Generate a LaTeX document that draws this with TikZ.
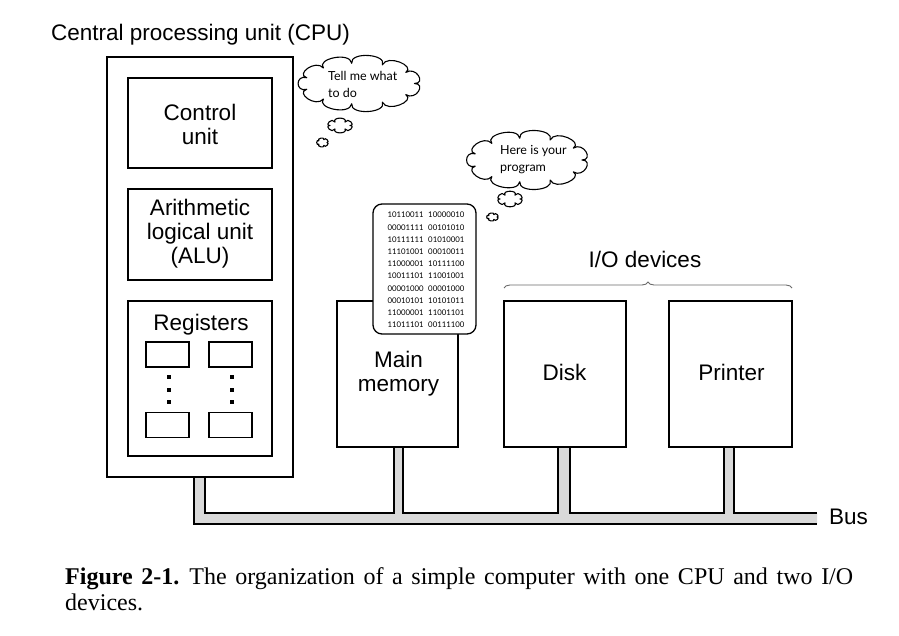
\documentclass[tikz,border=0pt]{standalone}
\usepackage{fontspec}
\setmainfont{Liberation Sans}
\newfontfamily\capfont{Liberation Serif}
\newfontfamily\thinkfont{Lato}
\usetikzlibrary{decorations.pathreplacing}
\definecolor{busgray}{HTML}{D9D9D9}
\definecolor{bracegray}{HTML}{6A6A6A}
% #1,#2 centre, #3,#4 inner radii, #5 puff bulge, #6 number of puffs
\newcommand\mycloud[6]{%
  \draw[thoughtline,shift={(#1,#2)}] (0:#3 and #4)
    \foreach \k in {1,...,#6}{ .. controls ({(\k-1)*360/#6}:{#3+#5} and {#4+#5}) and ({\k*360/#6}:{#3+#5} and {#4+#5}) .. ({\k*360/#6}:#3 and #4)} -- cycle;}
\begin{document}
\begin{tikzpicture}[x=1pt,y=-1pt,
  box/.style={draw,line width=2pt,fill=white,rectangle,inner sep=0pt},
  regbox/.style={draw,line width=1.8pt,fill=white,rectangle,inner sep=0pt,minimum width=43pt,minimum height=25pt},
  lbl/.style={font=\fontsize{22.5}{24}\selectfont,align=center,inner sep=0pt},
  dotsq/.style={fill=black,minimum size=4pt,inner sep=0pt,rectangle},
  thoughtline/.style={line width=1.1pt,fill=white,line join=round},
  think/.style={font=\thinkfont\fontsize{12.5}{17}\selectfont,align=left,inner sep=0pt},
  busline/.style={line width=1.8pt,line join=miter}
]
\useasboundingbox[fill=white] (0,0) rectangle (899,635);

% title
\node[lbl,anchor=base] (title) at (200.5,40) {Central processing unit (CPU)};

% bus fill
\coordinate (busB) at (817,524);
\coordinate (busT) at (817,513);
\fill[busgray] (194,470) -- (194,524) -- (busB) -- (busT) -- (734,513) -- (734,440) -- (724,440)
  -- (724,513) -- (570,513) -- (570,440) -- (558,440) -- (558,513) -- (403,513) -- (403,440)
  -- (394,440) -- (394,513) -- (205,513) -- (205,470) -- cycle;

% CPU
\node[box,minimum width=186pt,minimum height=420pt] (cpu) at (200,267) {};
\node[box,minimum width=144pt,minimum height=90pt] (cu) at (200,123) {};
\node[lbl] (cutxt) at (200,124.5) {Control\\unit};
\node[box,minimum width=144pt,minimum height=91pt] (alu) at (200,234.5) {};
\node[lbl] (alutxt) at (200,233.5) {Arithmetic\\logical unit\\(ALU)};
\node[box,minimum width=144pt,minimum height=155pt] (reg) at (200,378.5) {};
\node[lbl,anchor=base] (regtxt) at (201,330) {Registers};
\node[regbox] (r1) at (167.5,354.5) {};
\node[regbox] (r2) at (230.5,354.5) {};
\node[regbox] (r3) at (167.5,425) {};
\node[regbox] (r4) at (230.5,425) {};
\node[dotsq] (d1) at (169,377) {};
\node[dotsq] (d2) at (169,389.5) {};
\node[dotsq] (d3) at (169,402) {};
\node[dotsq] (d4) at (232,377) {};
\node[dotsq] (d5) at (232,389.5) {};
\node[dotsq] (d6) at (232,402) {};

% memory and devices
\node[box,minimum width=121pt,minimum height=146pt] (mem) at (397.5,374) {};
\node[lbl] (memtxt) at (398.5,374) {Main\\memory};
\node[box,minimum width=122pt,minimum height=146pt] (dsk) at (565,374) {};
\node[lbl,anchor=base] (dsktxt) at (564.5,380) {Disk};
\node[box,minimum width=123pt,minimum height=146pt] (prn) at (730.5,374) {};
\node[lbl,anchor=base] (prntxt) at (731.5,380) {Printer};

% program listing
\node[draw,line width=1.3pt,fill=white,rounded corners=9pt,minimum width=103pt,minimum height=130pt,inner sep=0pt] (bin) at (424.5,269) {};
\node[font=\thinkfont\fontsize{7.8}{12.2}\selectfont,align=left,inner sep=0pt] (bintxt) at (426,270) {%
10110011\hspace{4.5pt}10000010\\%
00001111\hspace{4.5pt}00101010\\%
10111111\hspace{4.5pt}01010001\\%
11101001\hspace{4.5pt}00010011\\%
11000001\hspace{4.5pt}10111100\\%
10011101\hspace{4.5pt}11001001\\%
00001000\hspace{4.5pt}00001000\\%
00010101\hspace{4.5pt}10101011\\%
11000001\hspace{4.5pt}11001101\\%
11011101\hspace{4.5pt}00111100};

% thought clouds
\mycloud{359.5}{83.5}{55}{20.5}{12}{11}
\node[think,anchor=north west] (c1txt) at (328,71.5) {Tell me what\\to do};
\mycloud{340}{125.5}{10}{4}{6}{6}
\mycloud{322.5}{142.5}{4.5}{3}{3.5}{5}

\mycloud{527.5}{160}{54.5}{22}{12}{11}
\node[think,anchor=north west] (c2txt) at (500,145.5) {Here is your\\program};
\mycloud{510}{199}{10}{4.5}{6}{6}
\mycloud{492.5}{217}{4.5}{2.5}{3.5}{5}

% brace
\draw[decorate,decoration={brace,amplitude=6pt},line width=0.9pt,bracegray] (504,288) -- (792,288);
\node[lbl,anchor=base] (iotxt) at (645,267) {I/O devices};

% bus outlines
\draw[busline] (205,477) -- (205,513) -- (394,513) -- (394,447);
\draw[busline] (403,447) -- (403,513) -- (558,513) -- (558,447);
\draw[busline] (570,447) -- (570,513) -- (724,513) -- (724,447);
\draw[busline] (734,447) -- (734,513) -- (busT);
\draw[busline] (194,477) -- (194,524) -- (busB);
\node[lbl,anchor=base west] (bustxt) at (829,524) {Bus};

% caption
\node[anchor=north west,text width=788pt,align=justify,inner sep=0pt,font=\capfont\fontsize{24}{26}\selectfont] (cap) at (65,567.5)
  {\noindent{\bfseries Figure 2-1.}\hspace{10pt}The organization of a simple computer with one CPU and two I/O\linebreak devices.};
\end{tikzpicture}
\end{document}
